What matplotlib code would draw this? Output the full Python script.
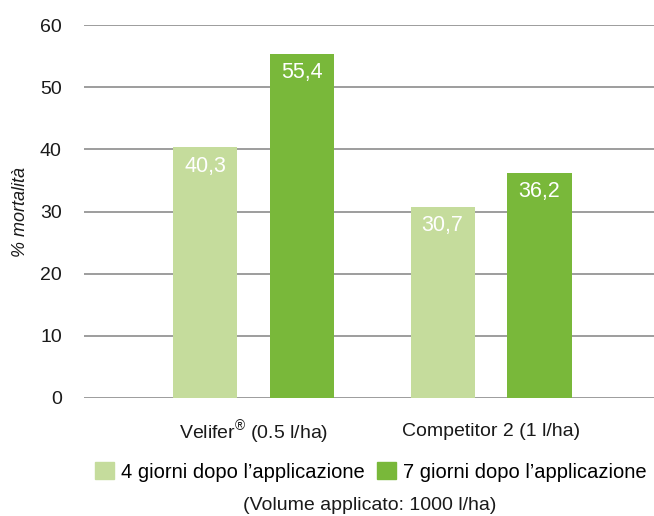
import matplotlib
matplotlib.use("Agg")
import matplotlib.pyplot as plt
import numpy as np
from matplotlib.patches import Patch

plt.rcParams["font.family"] = ["Liberation Sans", "DejaVu Sans"]
plt.rcParams["mathtext.fontset"] = "custom"
plt.rcParams["mathtext.rm"] = "Liberation Sans"

categories = ["Velifer$^{\u00ae}$ (0.5 l/ha)", "Competitor 2 (1 l/ha)"]
series_names = ["4 giorni dopo l\u2019applicazione", "7 giorni dopo l\u2019applicazione"]
day4 = [40.3, 30.7]
day7 = [55.4, 36.2]
value_labels_4 = ["40,3", "30,7"]
value_labels_7 = ["55,4", "36,2"]
yticks = [0, 10, 20, 30, 40, 50, 60]

LIGHT = "#c5dc9c"
DARK = "#79b83a"
GRID = "#8c8c8c"
TEXT = "#1a1a1a"

fig = plt.figure(figsize=(6.54, 5.16), dpi=100)
ax = fig.add_axes((84 / 654, 1 - 398 / 516, (654 - 84) / 654, (398 - 25) / 516))

x = np.arange(len(categories))
offset = 0.204
width = 0.27

bars4 = ax.bar(x - offset, day4, width, color=LIGHT, zorder=2)
bars7 = ax.bar(x + offset, day7, width, color=DARK, zorder=2)

for bars, labels in ((bars4, value_labels_4), (bars7, value_labels_7)):
    for bar, lab in zip(bars, labels):
        ax.annotate(
            lab,
            xy=(bar.get_x() + bar.get_width() / 2, bar.get_height()),
            xytext=(0, -6),
            textcoords="offset points",
            ha="center",
            va="top",
            fontsize=15.5,
            color="white",
            zorder=3,
        )

ax.set_xlim(-0.714, 1.686)
ax.set_ylim(0, 60)
ax.set_yticks(yticks)
ax.set_yticklabels([str(t) for t in yticks], fontsize=14, color=TEXT)
ax.set_xticks(x)
ax.set_xticklabels([])
ax.tick_params(axis="both", length=0)
ax.tick_params(axis="y", pad=16)

# category labels drawn by hand so both sit on one baseline
# (the mathtext superscript on the first one lifts it a bit)
for xi, name in zip(x, categories):
    dy = -29.5 if "$" in name else -27.5
    ax.annotate(
        name,
        xy=(xi, 0),
        xytext=(0, dy),
        textcoords="offset points",
        ha="center",
        va="baseline",
        fontsize=14,
        color=TEXT,
        annotation_clip=False,
    )

ax.grid(axis="y", color=GRID, linewidth=1.2, zorder=1)
ax.set_axisbelow(True)
for side in ("top", "right", "left", "bottom"):
    ax.spines[side].set_visible(False)

ax.set_ylabel("% mortalit\u00e0", fontsize=13, style="italic", color=TEXT)
ax.yaxis.set_label_coords(-0.097, 0.5)

handles = [Patch(color=LIGHT), Patch(color=DARK)]
fig.legend(
    handles,
    series_names,
    loc="center",
    bbox_to_anchor=(371 / 654, 1 - 472 / 516),
    ncol=2,
    frameon=False,
    fontsize=14.5,
    handlelength=0.95,
    handleheight=0.9,
    handletextpad=0.35,
    columnspacing=0.6,
)

fig.text(370 / 654, 1 - 505 / 516, "(Volume applicato: 1000 l/ha)", ha="center", va="center",
         fontsize=14, color=TEXT)

fig.savefig("out.png", dpi=100)
